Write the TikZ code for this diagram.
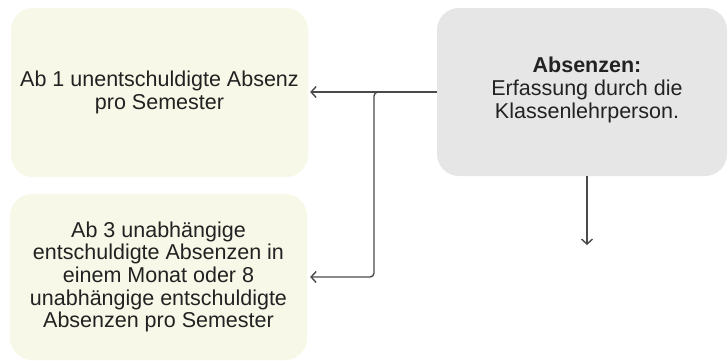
\documentclass[tikz,border=0pt]{standalone}
\usepackage{fontspec}
\setmainfont{Liberation Sans}
\usetikzlibrary{arrows.meta}

\definecolor{creamfill}{HTML}{F7F8E7}
\definecolor{greyfill}{HTML}{E6E6E6}
\definecolor{linegrey}{HTML}{4A4A4A}
\definecolor{inkgrey}{HTML}{222222}

\tikzset{
  card/.style={rectangle, rounded corners=22pt, draw=none, inner sep=0pt,
    text=inkgrey, align=center,
    font=\fontsize{21.5pt}{22.6pt}\selectfont},
  creamcard/.style={card, fill=creamfill},
  greycard/.style={card, fill=greyfill},
  label/.style={inner sep=0pt, text=inkgrey, align=center,
    font=\fontsize{21.5pt}{22.6pt}\selectfont},
  conn/.style={draw=linegrey, line width=1.4pt},
  arr/.style={conn, -{Straight Barb[length=5pt,width=11pt,line width=1.4pt]}},
}

\begin{document}
\begin{tikzpicture}[x=1pt,y=-1pt]
  \useasboundingbox (0,0) rectangle (728,360);
  \fill[white] (0,0) rectangle (728,360);

  % left column: the two thresholds
  \node[creamcard, minimum width=297pt, minimum height=169pt] (single)
    at (159.5,92.5) {Ab 1 unentschuldigte Absenz\\pro Semester};
  \node[creamcard, minimum width=297pt, minimum height=166pt] (repeat)
    at (158.5,277) {Ab 3 unabhängige\\entschuldigte Absenzen in\\einem Monat oder 8\\unabhängige entschuldigte\\Absenzen pro Semester};

  % right: where absences are recorded
  \node[greycard, minimum width=290pt, minimum height=168pt] (record)
    at (582,92) {};
  \node[label] (recordtext) at (587,90)
    {\textbf{Absenzen:}\\Erfassung durch die\\Klassenlehrperson.};

  % connectors
  \coordinate (split) at (374,92);
  \coordinate (down) at (587,245);
  \draw[arr, shorten >=2pt] (record.west) -- (record.west -| single.east);
  \draw[arr, shorten >=3pt, rounded corners=4pt]
    ([xshift=6pt]split) -- (split) -- (split |- repeat.east) -- (repeat.east);
  \draw[arr] (record.south -| down) -- (down);
\end{tikzpicture}
\end{document}
